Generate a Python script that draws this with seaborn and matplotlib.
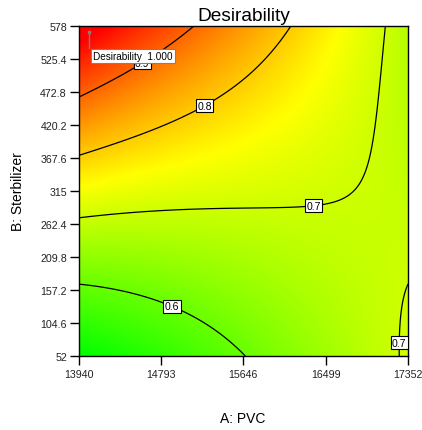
import numpy as np
import matplotlib
matplotlib.use("Agg")
import matplotlib.pyplot as plt
from matplotlib.colors import LinearSegmentedColormap
import seaborn as sns

# axis ticks and their labels
pvc_ticks = [13940, 14793, 15646, 16499, 17352]
pvc_labels = ["13940", "14793", "15646", "16499", "17352"]
stab_ticks = [52, 104.6, 157.2, 209.8, 262.4, 315, 367.6, 420.2, 472.8, 525.4, 578]
stab_labels = ["52", "104.6", "157.2", "209.8", "262.4", "315", "367.6",
               "420.2", "472.8", "525.4", "578"]

# traced points on the desirability contours (PVC, stabilizer)
lvl_09_pvc = [13940, 14607, 15146]
lvl_09_stab = [462, 514, 576]
lvl_08_pvc = [13940, 14503, 15196, 15247, 15643, 16096]
lvl_08_stab = [369, 425, 435, 450, 498, 578]
lvl_07_pvc = [13940, 15196, 16469, 16780, 16883, 16955, 16986, 17100]
lvl_07_stab = [272, 275, 294, 318, 339, 366, 382, 576]
lvl_07b_pvc = [17256, 17297, 17352]
lvl_07b_stab = [52, 122, 163]
lvl_06_pvc = [13940, 14502, 14916, 15372, 15682]
lvl_06_stab = [168, 148, 135, 95, 52]
# spot desirability values (corners, centre, optimum)
spot_pvc = [13940, 17352, 17352, 15612, 13940, 14047]
spot_stab = [52, 578, 52, 318, 578, 568]
spot_d = [0.50, 0.685, 0.715, 0.725, 1.03, 1.01]

# optimum flag
flag_pvc = 14047
flag_stab = 568

contour_levels = [0.6, 0.7, 0.8, 0.9]
label_spots = [(14607, 517), (15250, 450), (16365, 301), (14916, 135), (17280, 73)]


def coded(p, s):
    return (np.asarray(p, float) - 15646) / 1706.0, (np.asarray(s, float) - 315) / 263.0


def terms(a, b):
    return np.column_stack([np.ones_like(a), a, b, a * a, a * b, b * b,
                            a ** 3, a * a * b, a * b * b, b ** 3])


# cubic response surface in coded factors
P, S, D, W = [], [], [], []
for p, s, lv, w in [(lvl_09_pvc, lvl_09_stab, 0.9, 1.0), (lvl_08_pvc, lvl_08_stab, 0.8, 1.0),
                    (lvl_07_pvc, lvl_07_stab, 0.7, 1.0), (lvl_07b_pvc, lvl_07b_stab, 0.7, 2.5),
                    (lvl_06_pvc, lvl_06_stab, 0.6, 1.0)]:
    P += p; S += s; D += [lv] * len(p); W += [w] * len(p)
P += spot_pvc; S += spot_stab; D += spot_d; W += [0.5] * len(spot_d)
a, b = coded(P, S)
W = np.array(W)
coef, *_ = np.linalg.lstsq(terms(a, b) * W[:, None], np.array(D) * W, rcond=None)


def desirability(p, s):
    ca, cb = coded(np.ravel(p), np.ravel(s))
    return np.clip(terms(ca, cb) @ coef, 0, 1).reshape(np.shape(p))


sns.set_theme(style="ticks")
plt.rcParams["font.family"] = ["Liberation Sans", "DejaVu Sans"]

fig = plt.figure(figsize=(4.22, 4.31), dpi=100)
ax = fig.add_axes([0.1865, 0.1717, 0.7805, 0.7657])

gx = np.linspace(13940, 17352, 400)
gy = np.linspace(52, 578, 400)
GX, GY = np.meshgrid(gx, gy)
Z = desirability(GX, GY)

cmap = LinearSegmentedColormap.from_list("desir", ["#00ff00", "#ffff00", "#ff0000"])
ax.imshow(Z, origin="lower", extent=[13940, 17352, 52, 578], aspect="auto",
          cmap=cmap, vmin=Z.min(), vmax=Z.max(), interpolation="bilinear", zorder=0)
cs = ax.contour(GX, GY, Z, levels=contour_levels, colors="black", linewidths=0.9, zorder=2)
labels = ax.clabel(cs, fmt="%.1f", inline=False, fontsize=7.6, manual=label_spots)
for t in labels:
    t.set_rotation(0)
    t.set_color("black")
    t.set_bbox(dict(facecolor="white", edgecolor="black", linewidth=0.8, pad=1.0))
    t.set_clip_on(True)
    t.set_zorder(3)

# optimum flag
flag_val = float(desirability(np.array([flag_pvc]), np.array([flag_stab]))[0])
ax.plot([flag_pvc, flag_pvc], [flag_stab, 543], color="#808080", linewidth=1.0, zorder=4)
ax.plot([flag_pvc], [flag_stab], marker="s", markersize=1.5, color="#808080", zorder=4)
ax.text(14090, 530, f"Desirability  {flag_val:.3f}", fontsize=7.2, ha="left", va="center",
        color="black", zorder=5,
        bbox=dict(facecolor="white", edgecolor="#808080", linewidth=0.8, pad=1.6))

ax.set_xlim(13940, 17352)
ax.set_ylim(52, 578)
ax.set_xticks(pvc_ticks)
ax.set_xticklabels(pvc_labels)
ax.set_yticks(stab_ticks)
ax.set_yticklabels(stab_labels)
ax.tick_params(axis="both", direction="out", length=6.5, width=1.0, color="black",
               labelsize=7.7, labelcolor="#222222")
ax.tick_params(axis="x", pad=3)
ax.tick_params(axis="y", pad=2)
for sp in ax.spines.values():
    sp.set_color("black")
    sp.set_linewidth(1.0)

ax.set_title("Desirability", fontsize=13.8, pad=4, color="black")
fig.text(243 / 422, 1 - 419 / 431, "A: PVC", fontsize=10, ha="center", va="center", color="black")
fig.text(18 / 422, 1 - 192 / 431, "B: Sterbilizer", fontsize=10, ha="center", va="center",
         rotation=90, color="black")

fig.savefig("out.png", dpi=100)
